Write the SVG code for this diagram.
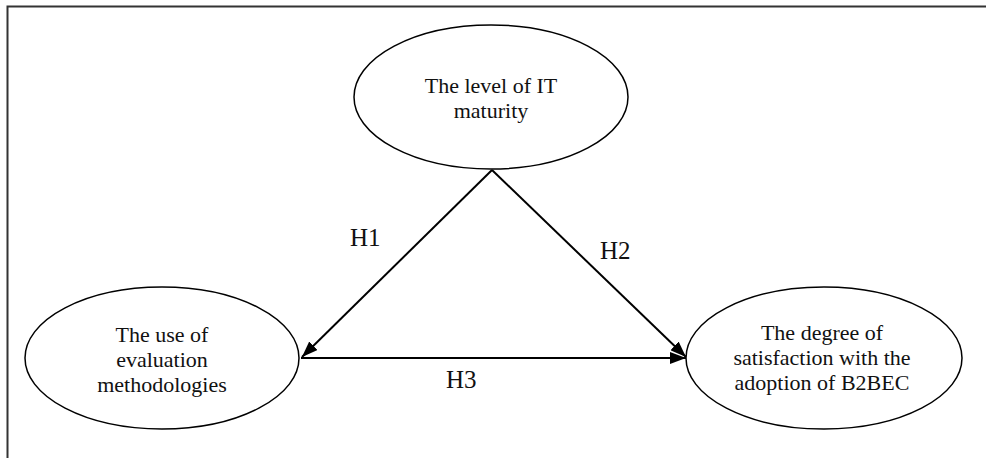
<svg xmlns="http://www.w3.org/2000/svg" width="986" height="458" viewBox="0 0 986 458">
<style>
.node ellipse{fill:#fff;stroke:#000;stroke-width:1.5}
.t{font-family:"Liberation Serif","Times New Roman",serif;font-size:22px;fill:#111;text-anchor:middle}
.h{font-family:"Liberation Serif","Times New Roman",serif;font-size:25px;fill:#111}
.edge{stroke:#000;stroke-width:2;fill:none;marker-end:url(#ah)}
</style>
<defs>
<marker id="ah" viewBox="0 0 16 12" refX="16" refY="6" markerWidth="16" markerHeight="12" markerUnits="userSpaceOnUse" orient="auto">
<path d="M0,0 L16,6 L0,12 Z" fill="#000"/>
</marker>
</defs>
<rect width="986" height="458" fill="#fff"/>
<path d="M7.5,458 V6.5 H986" fill="none" stroke="#333" stroke-width="2"/>
<g id="connectors">
<line class="edge" x1="492" y1="170" x2="302" y2="357"/>
<line class="edge" x1="492" y1="170" x2="686" y2="357"/>
<line class="edge" x1="301" y1="358" x2="686" y2="358"/>
</g>
<g id="it-maturity" class="node">
<ellipse cx="491" cy="97" rx="137" ry="72"/>
<text class="t" x="491" y="93">The level of IT</text>
<text class="t" x="491" y="118">maturity</text>
</g>
<g id="evaluation" class="node">
<ellipse cx="162" cy="358" rx="137" ry="71"/>
<text class="t" x="162" y="342">The use of</text>
<text class="t" x="162" y="367">evaluation</text>
<text class="t" x="162" y="392">methodologies</text>
</g>
<g id="satisfaction" class="node">
<ellipse cx="824" cy="358" rx="138" ry="71"/>
<text class="t" x="822" y="340">The degree of</text>
<text class="t" x="822" y="365">satisfaction with the</text>
<text class="t" x="822" y="390">adoption of B2BEC</text>
</g>
<g id="labels">
<text class="h" x="350" y="246">H1</text>
<text class="h" x="600" y="259">H2</text>
<text class="h" x="446" y="388">H3</text>
</g>
</svg>
